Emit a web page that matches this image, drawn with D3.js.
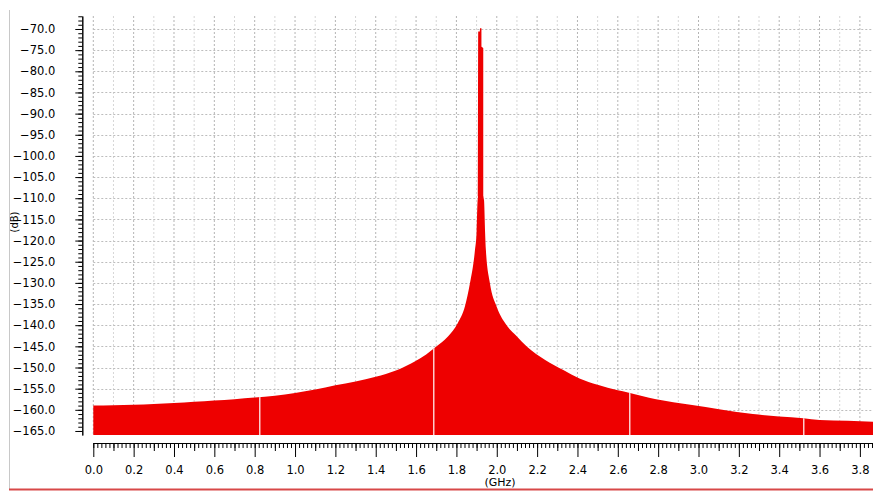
<!DOCTYPE html>
<html>
<head>
<meta charset="utf-8">
<script src="https://cdn.jsdelivr.net/npm/d3@7"></script>
<style>
  body { margin: 0; background: #fff; }
  text { font-family: "DejaVu Sans", sans-serif; fill: #000; }
</style>
</head>
<body>
<div id="graph"></div>
<script>
// spectrum (GHz, dB)
const freqGHz = [0.00, 0.10, 0.20, 0.30, 0.40, 0.50, 0.60, 0.70, 0.80, 0.90,
  1.00, 1.10, 1.20, 1.30, 1.40, 1.50, 1.60, 1.65, 1.694, 1.758,
  1.807, 1.842, 1.867, 1.892, 1.900, 1.905, 1.907, 1.908, 1.916, 1.917,
  1.924, 1.925, 1.933, 1.934, 1.937, 1.942, 1.946, 1.966, 1.999, 2.041,
  2.099, 2.15, 2.24, 2.33, 2.41, 2.50, 2.60, 2.65, 2.79, 2.96,
  3.11, 3.27, 3.40, 3.52, 3.60, 3.74, 3.87];
const levelDb = [-159.0, -158.9, -158.8, -158.6, -158.4, -158.1, -157.8, -157.5, -157.1, -156.7,
  -156.0, -155.2, -154.2, -153.3, -152.2, -150.7, -148.4, -146.9, -145.3, -142.7,
  -139.5, -135.6, -130.1, -122.2, -117.9, -110.5, -109.6, -70.6, -70.6, -69.8,
  -69.8, -74.2, -74.5, -109.6, -110.5, -117.9, -122.2, -130.1, -135.6, -139.5,
  -142.6, -145.1, -148.2, -150.6, -152.6, -154.1, -155.4, -155.9, -157.5, -158.8,
  -159.9, -161.0, -161.6, -162.0, -162.4, -162.6, -162.8];
// thin white seams visible inside the fill
const seamGHz = [0.821, 1.684, 2.655, 3.518];

const yLabels = d3.range(-165, -65, 5);
const xLabels = d3.range(0, 39, 2).map(d => d / 10);

const data = freqGHz.map((f, i) => ({f: f, db: levelDb[i]}));

// set the dimensions and margins of the graph
const W = 873, H = 491;
const margin = {top: 16, right: 0, bottom: 56, left: 93.3},
    width = W - margin.left - margin.right,
    height = H - margin.top - margin.bottom;

const root = d3.select("#graph")
  .append("svg")
    .attr("width", W)
    .attr("height", H);

const svg = root.append("g")
    .attr("transform", `translate(${margin.left},${margin.top})`);

const x = d3.scaleLinear()
  .domain([0, 3.865])
  .range([0, width]);
const y = d3.scaleLinear()
  .domain([-165.95, -66.93])
  .range([height, 0]);

// grid
svg.append("g")
  .selectAll("line")
  .data(d3.range(0, 39).map(d => d / 10))
  .join("line")
    .attr("x1", d => x(d)).attr("x2", d => x(d))
    .attr("y1", 0).attr("y2", height)
    .attr("stroke", (d, i) => i % 2 === 0 ? "#b4b4b4" : "#d6d6d6")
    .attr("stroke-dasharray", "2,2");
svg.append("g")
  .selectAll("line")
  .data(yLabels)
  .join("line")
    .attr("x1", 0).attr("x2", width)
    .attr("y1", d => Math.round(y(d)) + 0.5).attr("y2", d => Math.round(y(d)) + 0.5)
    .attr("stroke", "#bdbdbd")
    .attr("stroke-dasharray", "2,2");

// filled spectrum
const area = d3.area()
  .curve(d3.curveMonotoneX)
  .x(d => x(d.f))
  .y0(height)
  .y1(d => y(d.db));

svg.append("clipPath").attr("id", "fillclip")
  .append("path").attr("d", area(data));

svg.append("path")
  .datum(data)
  .attr("d", area)
  .attr("fill", "#ee0000");

svg.append("g")
  .attr("clip-path", "url(#fillclip)")
  .selectAll("line")
  .data(seamGHz)
  .join("line")
    .attr("x1", d => Math.round(x(d)) + 0.5).attr("x2", d => Math.round(x(d)) + 0.5)
    .attr("y1", 0).attr("y2", height)
    .attr("stroke", "#fff")
    .attr("stroke-width", 1.2);

// Y axis (detached to the left)
const yAxisG = svg.append("g").attr("transform", "translate(-11,0)");
yAxisG.append("g")
  .call(d3.axisLeft(y).tickValues(d3.range(-165, -66, 1)).tickSize(4).tickSizeOuter(0).tickFormat(""));
yAxisG.append("g")
  .call(d3.axisLeft(y).tickValues(yLabels).tickSize(7).tickSizeOuter(0)
    .tickPadding(20).tickFormat(d3.format(".1f")));
yAxisG.selectAll("text").style("font-size", "11.5px").style("font-family", "DejaVu Sans");
yAxisG.selectAll("path.domain").attr("stroke", "#000");

// X axis (detached below)
const xAxisG = svg.append("g").attr("transform", `translate(0,${height + 8})`);
const minorX = d3.range(0, 194).map(d => d / 50).filter(d => x(d) <= width);
xAxisG.append("g")
  .call(d3.axisBottom(x).tickValues(minorX).tickSize(5).tickSizeOuter(0).tickFormat(""));
xAxisG.append("g")
  .call(d3.axisBottom(x).tickValues(d3.range(1, 39, 2).map(d => d / 10)).tickSize(8).tickSizeOuter(0).tickFormat(""));
xAxisG.append("g")
  .call(d3.axisBottom(x).tickValues(xLabels).tickSize(14).tickSizeOuter(0)
    .tickPadding(9).tickFormat(d3.format(".1f")));
xAxisG.selectAll("text").style("font-size", "11.5px").style("font-family", "DejaVu Sans");

// axis titles
root.append("text")
  .attr("transform", "translate(18,222) rotate(-90)")
  .attr("text-anchor", "middle")
  .style("font-size", "10px")
  .text("(dB)");
root.append("text")
  .attr("x", 500).attr("y", 486)
  .attr("text-anchor", "middle")
  .style("font-size", "11px")
  .text("(GHz)");

// window frame
root.append("line")
  .attr("x1", 9.5).attr("x2", 9.5).attr("y1", 10).attr("y2", 489)
  .attr("stroke", "#c8c8c8");
root.append("line")
  .attr("x1", 9).attr("x2", W).attr("y1", 489.5).attr("y2", 489.5)
  .attr("stroke", "#d84848").attr("stroke-width", 2);
</script>
</body>
</html>
